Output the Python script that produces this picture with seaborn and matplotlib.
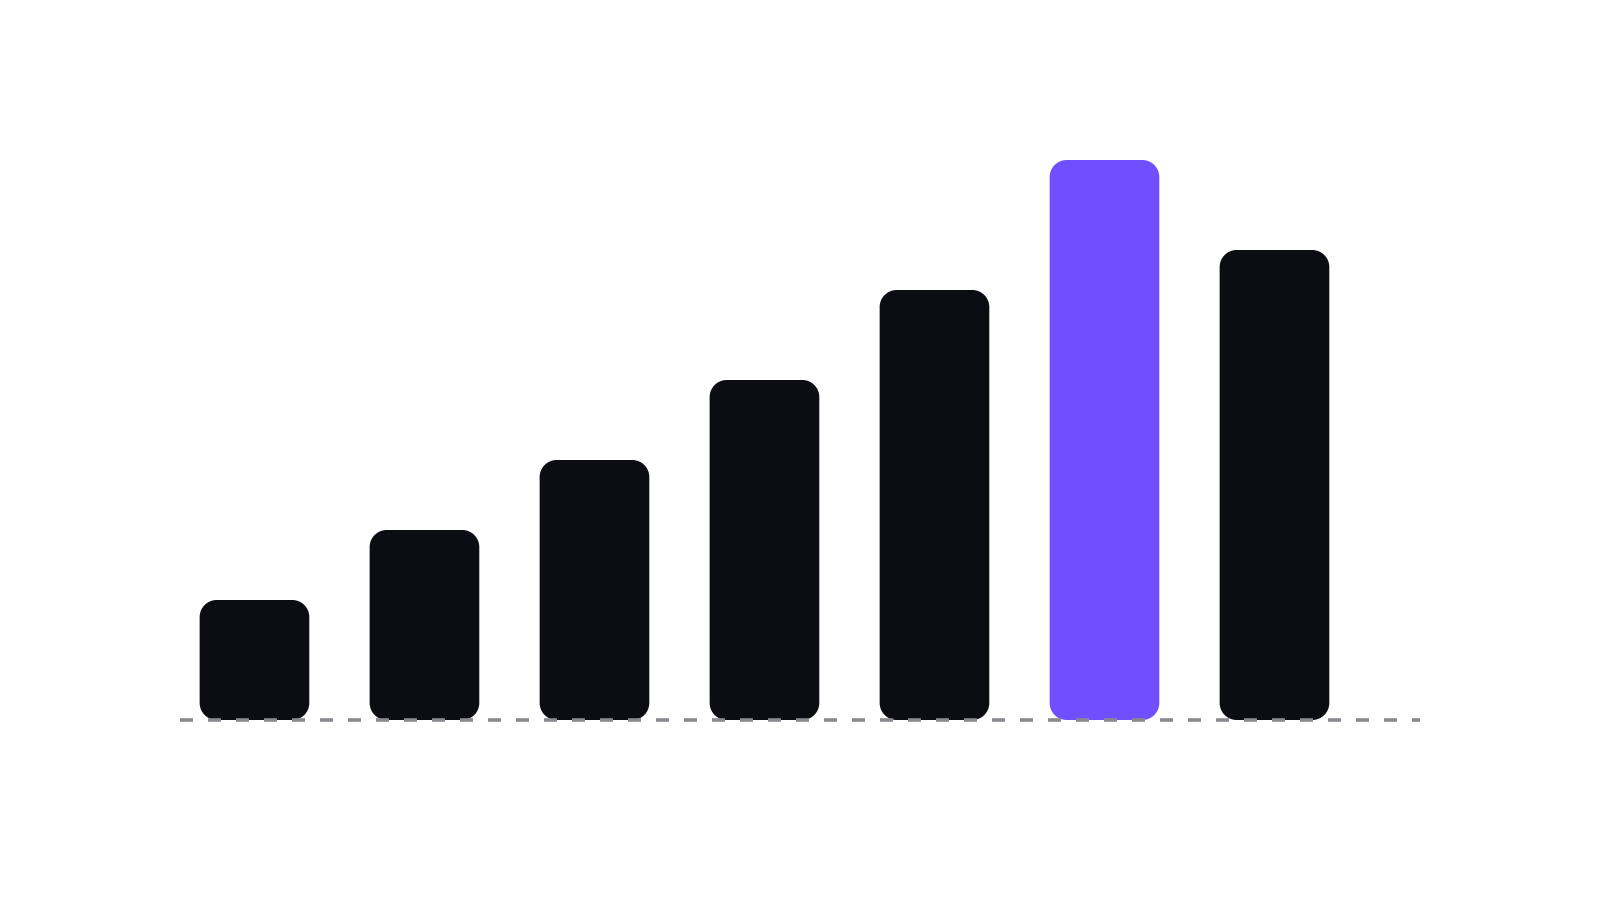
import matplotlib
matplotlib.use("Agg")
import matplotlib.pyplot as plt
import seaborn as sns
import pandas as pd
from matplotlib.path import Path
from matplotlib.patches import PathPatch

# Data (bar heights, arbitrary units)
categories = ["A", "B", "C", "D", "E", "F", "G"]
values = [12, 19, 26, 34, 43, 56, 47]
highlight = "F"

bar_color = "#0c0d12"
accent_color = "#704fff"
line_color = "#8a8a90"

df = pd.DataFrame({"category": categories, "value": values})
palette = {c: (accent_color if c == highlight else bar_color) for c in categories}


def rounded_rect(x0, y0, w, h, rx, ry):
    # rectangle with circular-looking corners (cubic bezier arcs)
    k = 0.5523
    x1, y1 = x0 + w, y0 + h
    verts = [
        (x0 + rx, y0), (x1 - rx, y0),
        (x1 - rx + k * rx, y0), (x1, y0 + ry - k * ry), (x1, y0 + ry),
        (x1, y1 - ry),
        (x1, y1 - ry + k * ry), (x1 - rx + k * rx, y1), (x1 - rx, y1),
        (x0 + rx, y1),
        (x0 + rx - k * rx, y1), (x0, y1 - ry + k * ry), (x0, y1 - ry),
        (x0, y0 + ry),
        (x0, y0 + ry - k * ry), (x0 + rx - k * rx, y0), (x0 + rx, y0),
        (x0 + rx, y0),
    ]
    codes = ([Path.MOVETO, Path.LINETO] + [Path.CURVE4] * 3 + [Path.LINETO]
             + [Path.CURVE4] * 3 + [Path.LINETO] + [Path.CURVE4] * 3
             + [Path.LINETO] + [Path.CURVE4] * 3 + [Path.CLOSEPOLY])
    return Path(verts, codes)


sns.set_theme(style="white")
fig = plt.figure(figsize=(16, 9), dpi=100)
# axes placed so the baseline sits at y=720px, spanning x 180..1420px
ax = fig.add_axes([180 / 1600, 0.2, 1240 / 1600, 0.7])

sns.barplot(data=df, x="category", y="value", hue="category", palette=palette,
            width=0.645, legend=False, ax=ax, saturation=1)

ax.set_xlim(-0.438, 6.856)
ax.set_ylim(0, 63)

# swap the square bars for rounded ones
x_per_px = (6.856 + 0.438) / 1240
y_per_px = 63 / 630
r_px = 17
for patch in list(ax.patches):
    x, y = patch.get_x(), patch.get_y()
    w, h = patch.get_width(), patch.get_height()
    color = patch.get_facecolor()
    patch.remove()
    ax.add_patch(PathPatch(rounded_rect(x, y, w, h, r_px * x_per_px, r_px * y_per_px),
                           facecolor=color, edgecolor="none", zorder=2))

# dashed baseline across the whole width, on top of the bars
lw = 2.6
px_per_pt = 100 / 72
ax.axhline(0, color=line_color, lw=lw,
           ls=(0, (13 / (lw * px_per_pt), 15 / (lw * px_per_pt))),
           zorder=3, clip_on=False)

ax.set_axis_off()
fig.savefig("out.png", dpi=100, facecolor="white")
